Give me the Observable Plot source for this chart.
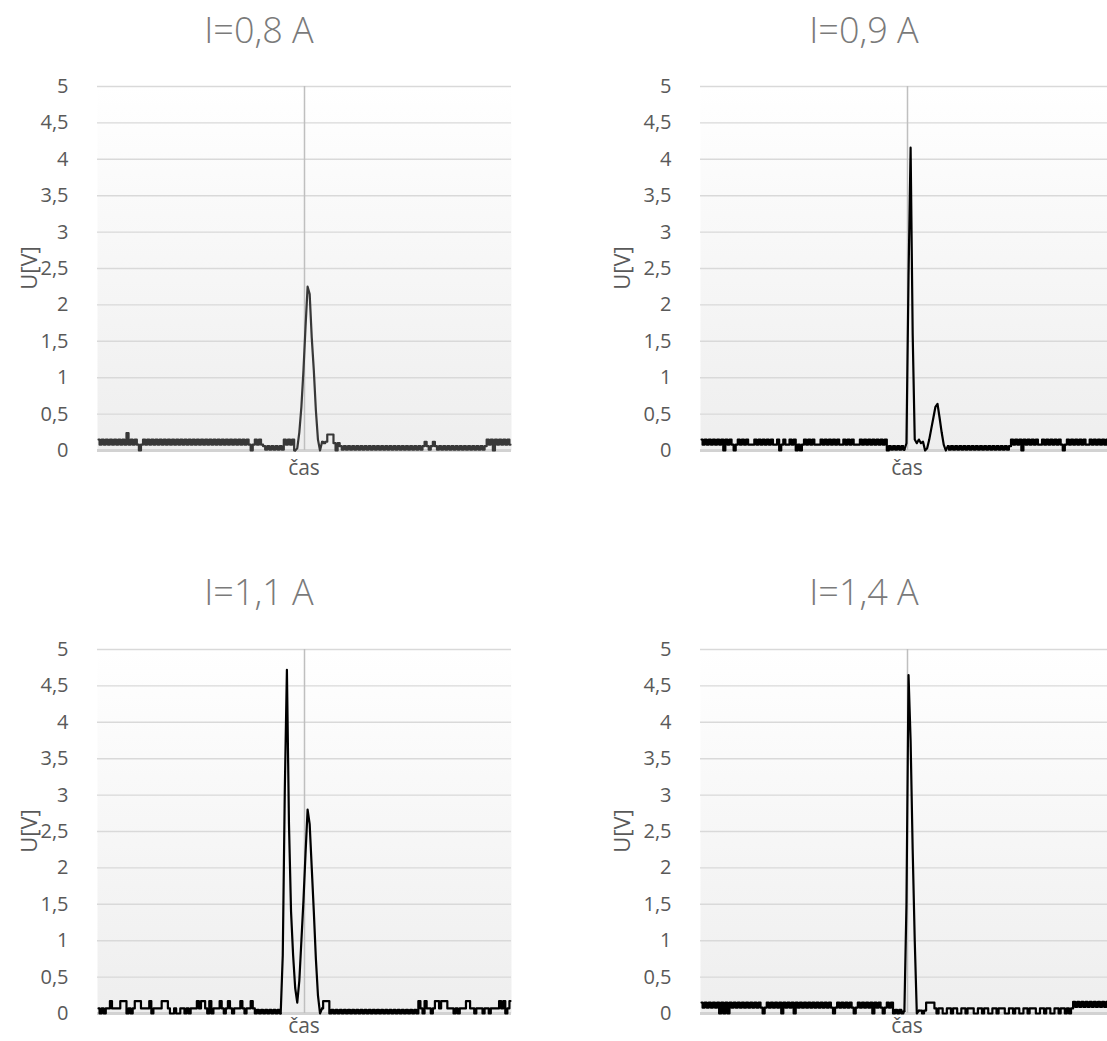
<!DOCTYPE html>
<html><head><meta charset="utf-8">
<script src="https://cdn.jsdelivr.net/npm/d3@7"></script>
<script src="https://cdn.jsdelivr.net/npm/@observablehq/plot@0.6"></script>
<style>
html,body{margin:0;padding:0;background:#fff;}
#root{position:relative;width:1107px;height:1041px;overflow:hidden;font-family:"Open Sans",sans-serif;}
.panel{position:absolute;width:560px;height:430px;}
.panel svg{max-width:none !important;display:block;}
.title{position:absolute;width:300px;text-align:center;font-size:36px;font-weight:300;color:#7a7a7a;line-height:44px;white-space:nowrap;}
.ylab{position:absolute;width:80px;height:26px;text-align:center;font-size:22px;color:#595959;line-height:26px;transform:rotate(-90deg);white-space:nowrap;}
.xlab{position:absolute;width:80px;height:21px;text-align:center;font-size:21px;color:#595959;line-height:21px;white-space:nowrap;}
</style></head>
<body><div id="root"></div>
<script>
// ---- data ----
const yTicks = [0, 0.5, 1, 1.5, 2, 2.5, 3, 3.5, 4, 4.5, 5];
const titles = ["I=0,8 A", "I=0,9 A", "I=1,1 A", "I=1,4 A"];
const yLabel = "U[V]";
const xLabel = "čas";

const U08 = [
.15,.08,.15,.08,.15,.08,.15,.08,.15,.08,
.15,.08,.15,.08,.24,.08,.15,.08,.15,.08,
0,.08,.15,.08,.15,.08,.15,.08,.15,.08,
.15,.08,.15,.08,.15,.08,.15,.08,.15,.08,
.15,.08,.15,.08,.15,.08,.15,.08,.15,.08,
.15,.08,.15,.08,.15,.08,.15,.08,.15,.08,
.15,.08,.15,.08,.15,.08,.15,.08,.15,.08,
.15,.08,.15,.08,0,.08,.15,.08,.15,.08,
.06,.01,.06,.01,.06,.01,.06,.01,.06,.01,
.15,.08,.15,.08,.15,0,.03,.25,.6,1.1,
1.7,2.25,2.15,1.55,1.1,.55,.15,0,.12,.1,
.12,.22,.22,.22,.1,0,.1,.06,.01,.06,
.01,.06,.01,.06,.01,.06,.01,.06,.01,.06,
.01,.06,.01,.06,.01,.06,.01,.06,.01,.06,
.01,.06,.01,.06,.01,.06,.01,.06,.01,.06,
.01,.06,.01,.06,.01,.06,.01,.06,.12,.06,
.01,.06,.12,.06,.01,.06,.01,.06,.01,.06,
.01,.06,.01,.06,.01,.06,.01,.06,.01,.06,
.01,.06,.01,.06,.01,.06,.01,.06,.15,.08,
.15,0,.15,.08,.15,.08,.15,.08,.15,.08];

const U09 = [
.15,.08,.15,.08,.15,.08,.15,.08,.15,.08,
.15,0,.15,.08,.15,.08,0,.08,.15,.08,
.15,.08,.15,.08,.08,.08,.15,.08,.15,.08,
.15,.08,.15,.08,.15,.08,.08,.15,0,.08,
.15,.08,.08,.15,.08,.15,0,.08,0,.08,
.15,.08,.15,.08,.15,.08,.08,.08,.15,.08,
.15,.08,.15,.08,.15,.08,.15,.08,.08,.15,
.08,.15,.08,.15,.08,.08,.08,.15,.08,.15,
.08,.15,.08,.15,.08,.15,.08,.15,.08,.15,
0,.06,.01,.06,.01,.06,.01,.06,.01,.1,
2.4,4.16,1.6,.15,.1,.15,.1,.12,0,.03,
.15,.3,.45,.6,.64,.45,.25,.08,0,.06,
.01,.06,.01,.06,.01,.06,.01,.06,.01,.06,
.01,.06,.01,.06,.01,.06,.01,.06,.01,.06,
.01,.06,.01,.06,.01,.06,.01,.06,.01,.06,
.15,.08,.15,.08,.15,0,.15,.08,.15,.08,
.15,.08,.15,.08,.08,.15,.08,.15,.08,.15,
.08,.15,.08,.15,.08,0,.08,.15,.08,.15,
.08,.15,.08,.15,.08,.15,.08,.08,.15,.08,
.15,.08,.15,.08,.15,.08,.15,.08,.15,.08];

const U11 = [
.07,0,.07,0,.07,.07,.17,.07,.07,.07,
.07,.17,.17,.17,0,.07,0,.07,.17,.17,
.17,.07,.07,.07,.07,.17,0,.07,.07,.07,
.07,.17,.17,.17,.07,0,0,.07,0,0,
.07,.07,0,.07,0,.07,.07,.07,.17,.07,
.17,.17,.07,0,.17,0,.07,.07,.07,.17,
.07,0,.07,.17,.07,0,.07,.07,.07,.17,
.07,0,.07,.07,.17,.07,0,.05,0,.05,
0,.05,0,.05,0,.05,0,.05,0,.8,
3.1,4.72,2.6,1.4,.8,.35,.15,.45,1.0,1.55,
2.2,2.8,2.6,2.0,1.4,.75,.25,0,.07,.17,
.17,.17,0,.05,0,.05,0,.05,0,.05,
0,.05,0,.05,0,.05,0,.05,0,.05,
0,.05,0,.05,0,.05,0,.05,0,.05,
0,.05,0,.05,0,.05,0,.05,0,.05,
0,.05,0,.05,0,.17,.07,0,.17,.07,
.07,0,.07,.17,.17,.07,.17,.17,.17,.07,
.07,.07,0,.07,0,.07,.07,.07,.17,.17,
.07,.07,0,.07,.07,.07,0,.07,.07,0,
.07,.07,.07,.07,.17,.07,.17,0,.07,.17];

const U14 = [
.15,.08,.15,.08,.15,.08,.15,.08,.15,0,
.15,0,.15,0,.15,.08,.15,.08,.15,.08,
.15,.08,.15,.08,.15,.08,.15,.08,.15,.08,
0,.08,.15,.08,.15,.08,.15,.08,.15,0,
.15,.08,.15,.08,.15,0,.15,.08,.15,.08,
.15,.08,.15,.08,.15,.08,.15,.08,.15,.08,
.15,.08,.15,.08,0,.08,.15,.08,.15,.08,
.15,.08,.15,.08,0,.08,.15,.08,.15,.08,
.15,.08,.15,0,.15,.08,.15,.08,0,.08,
.15,.08,.15,0,.05,0,.05,0,.03,1.5,
4.65,3.75,2.25,1.0,0,.04,.04,0,.04,.15,
.15,.15,.15,.07,0,.07,.07,0,0,.07,
.07,0,.07,.07,0,0,.07,.07,0,.07,
.07,.07,0,0,.07,.07,0,.07,.07,0,
0,.07,.07,0,.07,.07,.07,0,0,.07,
.07,0,.07,.07,0,0,.07,.07,0,.07,
.07,.07,0,0,.07,.07,0,.07,.07,0,
0,.07,.07,0,.07,.07,0,.07,0,.07,
.16,.09,.16,.09,.16,.09,.16,.09,.16,.09,
.16,.09,.16,.09,.16,.09,.16,.09,.16,.09];

const series = [U08, U09, U11, U14];
// sample ranges that hold the pulses (drawn with straight segments; the noise is drawn stepwise)
const pulseRanges = [[95, 108], [98, 119], [88, 108], [98, 105]];
const lineColors = ["#383838", "#000000", "#000000", "#000000"];

// ---- layout ----
const layout = [
  {left: 0,   top: 60,  titleX: 259, titleY: 8,   yLabX: 28,  yLabY: 268, xLabX: 304, xLabY: 457},
  {left: 603, top: 60,  titleX: 864, titleY: 8,   yLabX: 621, yLabY: 268, xLabX: 907, xLabY: 457},
  {left: 0,   top: 623, titleX: 259, titleY: 570, yLabX: 28,  yLabY: 831, xLabX: 304, xLabY: 1015},
  {left: 603, top: 623, titleX: 864, titleY: 570, yLabX: 621, yLabY: 831, xLabX: 907, xLabY: 1015}
];

const root = document.getElementById("root");
const fmt = d => String(d).replace(".", ",");

series.forEach((values, k) => {
  const L = layout[k];
  const N = values.length;
  const data = values.map((u, t) => ({t, u}));
  const [a, b] = pulseRanges[k];
  const lineOpts = c => ({x: "t", y: "u", stroke: lineColors[k], strokeWidth: 2.2, curve: c, strokeLinejoin: "round"});
  const svg = Plot.plot({
    width: 560, height: 430,
    marginLeft: 97, marginRight: 49, marginTop: 26, marginBottom: 40,
    style: {fontFamily: '"Open Sans", sans-serif', fontSize: "20px", color: "#595959", background: "transparent", overflow: "visible"},
    x: {domain: [-0.5, N - 0.5], axis: null},
    y: {domain: [0, 5], ticks: yTicks, tickFormat: fmt, tickSize: 0, tickPadding: 29, label: null},
    marks: [
      Plot.frame({fill: `url(#bg${k})`, stroke: "none"}),
      Plot.ruleY(yTicks, {stroke: "#d9d9d9", strokeWidth: 1.4}),
      Plot.ruleY([0], {stroke: "#d2d2d2", strokeWidth: 3}),
      Plot.ruleX([(N - 1) / 2], {stroke: "#bfbfbf", strokeWidth: 1.5}),
      Plot.line(data.filter(d => d.t <= a), lineOpts("step")),
      Plot.line(data.filter(d => d.t >= a && d.t <= b), lineOpts("linear")),
      Plot.line(data.filter(d => d.t >= b), lineOpts("step"))
    ]
  });
  const s = d3.select(svg);
  const defs = s.insert("defs", ":first-child");
  const g = defs.append("linearGradient").attr("id", "bg" + k)
    .attr("x1", 0).attr("y1", 0).attr("x2", 0).attr("y2", 1);
  g.append("stop").attr("offset", "0%").attr("stop-color", "#ffffff");
  g.append("stop").attr("offset", "100%").attr("stop-color", "#eeeeee");

  const wrap = document.createElement("div");
  wrap.className = "panel";
  wrap.style.left = L.left + "px";
  wrap.style.top = L.top + "px";
  wrap.appendChild(svg);
  root.appendChild(wrap);

  const t = document.createElement("div");
  t.className = "title"; t.textContent = titles[k];
  t.style.left = (L.titleX - 150) + "px"; t.style.top = L.titleY + "px";
  root.appendChild(t);

  const yl = document.createElement("div");
  yl.className = "ylab"; yl.textContent = yLabel;
  yl.style.left = (L.yLabX - 40) + "px"; yl.style.top = (L.yLabY - 13) + "px";
  root.appendChild(yl);

  const xl = document.createElement("div");
  xl.className = "xlab"; xl.textContent = xLabel;
  xl.style.left = (L.xLabX - 40) + "px"; xl.style.top = L.xLabY + "px";
  root.appendChild(xl);
});
</script>
</body></html>
